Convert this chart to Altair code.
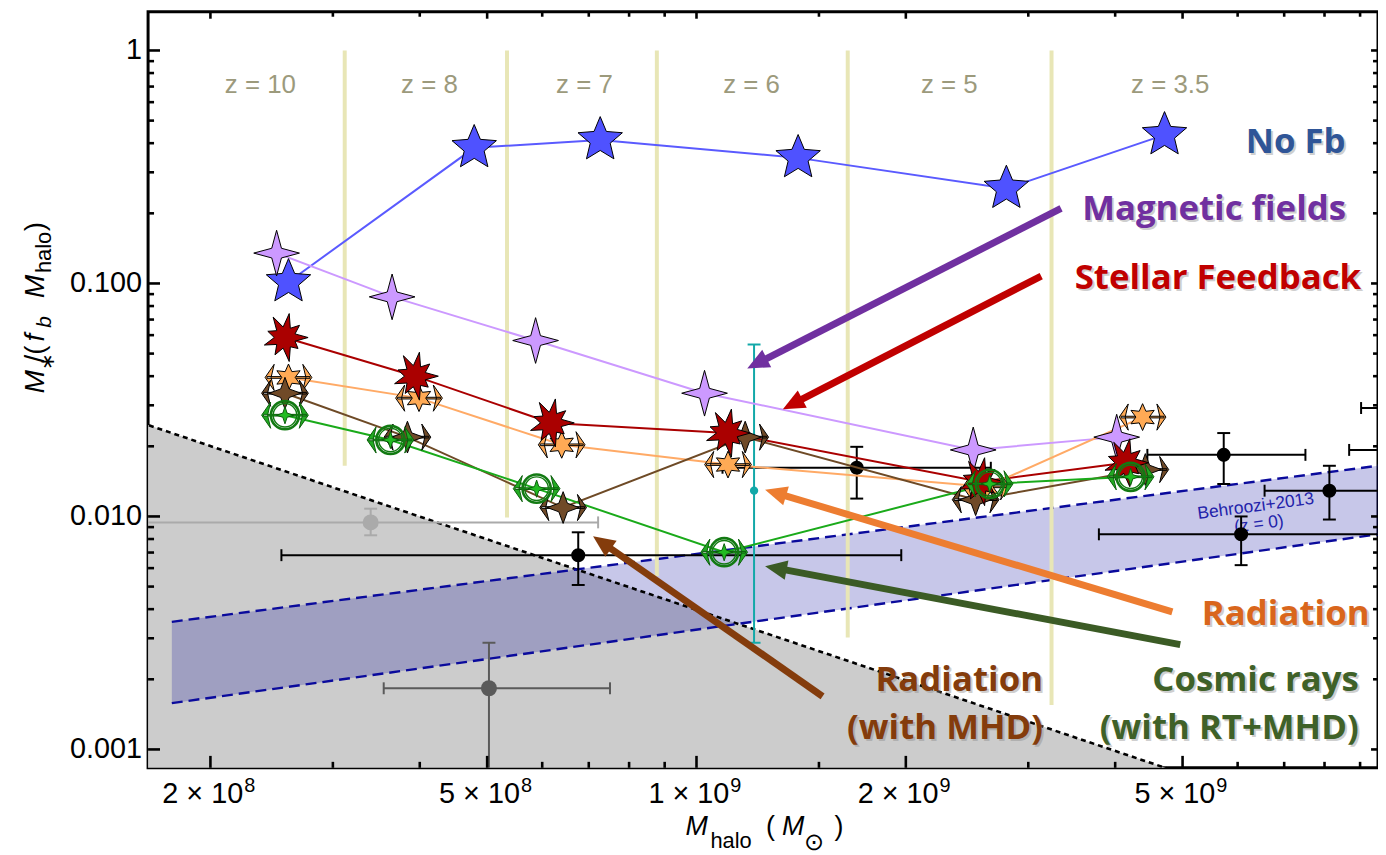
import math
import altair as alt
import pandas as pd

# ---------------- axis ranges (plot area) ----------------
X_MIN, X_MAX = 1.627e8, 9.55e9
Y_MIN, Y_MAX = 8.34e-4, 1.466
W, H = 1238, 761

# ---------------- simulation tracks ----------------
nofb_m = [2.59e8, 4.79e8, 7.27e8, 1.40e9, 2.79e9, 4.71e9]
nofb_v = [0.1015, 0.382, 0.413, 0.346, 0.2555, 0.434]
mag_m = [2.49e8, 3.65e8, 5.87e8, 1.027e9, 2.50e9, 4.02e9]
mag_v = [0.135, 0.0876, 0.0569, 0.0338, 0.0193, 0.0219]
sf_m = [2.56e8, 3.94e8, 6.18e8, 1.107e9, 2.56e9, 4.14e9]
sf_v = [0.0586, 0.040, 0.0252, 0.0228, 0.0141, 0.0170]
rad_m = [2.59e8, 3.99e8, 6.40e8, 1.11e9, 2.61e9, 4.38e9]
rad_v = [0.0395, 0.0322, 0.0203, 0.0167, 0.0134, 0.0267]
radmhd_m = [2.56e8, 3.84e8, 6.43e8, 1.175e9, 2.52e9, 4.42e9]
radmhd_v = [0.0338, 0.0219, 0.01092, 0.0219, 0.0118, 0.0159]
cr_m = [2.56e8, 3.63e8, 5.89e8, 1.096e9, 2.64e9, 4.21e9]
cr_v = [0.0272, 0.0213, 0.01316, 0.00702, 0.0138, 0.0148]

# ---------------- redshift separators / labels ----------------
sep_m = [3.12e8, 5.34e8, 8.77e8, 1.65e9, 3.24e9]
sep_top = [1.0, 1.0, 1.0, 1.0, 1.0]
sep_bot = [0.0165, 0.0099, 0.00555, 0.00302, 0.00155]
z_text = ["z = 10", "z = 8", "z = 7", "z = 6", "z = 5", "z = 3.5"]
z_m = [2.36e8, 4.13e8, 6.9e8, 1.2e9, 2.31e9, 4.8e9]
z_v = [0.71, 0.71, 0.71, 0.71, 0.71, 0.71]

# ---------------- observations ----------------
obs_m = [6.76e8, 1.70e9, 5.73e9, 8.13e9, 6.07e9, 1.2e10, 1.15e10]
obs_v = [0.00682, 0.01618, 0.01838, 0.0129, 0.00838, 0.0292, 0.0193]
obs_mlo = [2.53e8, 1.09e9, 4.45e9, 6.56e9, 3.79e9, 9.03e9, 8.68e9]
obs_mhi = [1.97e9, 2.65e9, 7.51e9, 1.007e10, 9.7e9, 1.6e10, 1.5e10]
obs_vlo = [0.00508, 0.01193, 0.01378, 0.0097, 0.00618, 0.0235, 0.0155]
obs_vhi = [0.00855, 0.0199, 0.0228, 0.0165, 0.0100, 0.0365, 0.024]

lg_m, lg_v = [3.40e8], [0.00943]
lg_mlo, lg_mhi, lg_vlo, lg_vhi = [1.6e8], [7.22e8], [0.0083], [0.0108]
dg_m, dg_v = [5.03e8], [0.00183]
dg_mlo, dg_mhi, dg_vlo, dg_vhi = [3.55e8], [7.51e8], [0.0007], [0.00287]
cy_m, cy_v, cy_vlo, cy_vhi = [1.21e9], [0.0129], [0.00287], [0.0547]

# ---------------- Behroozi+2013 band and excluded region ----------------
beh_m = [1.76e8, 1.0e10]
beh_hi = [0.00353, 0.0168]
beh_lo = [0.00158, 0.00855]
excl_m = [1.5e8, 1.0e10]
excl_v = [0.02678, 3.92e-4]
excl_floor = [1e-4, 1e-4]

# ---------------- arrows & labels ----------------
arrow_tail_m = [3.344e9, 3.131e9, 4.833e9, 4.962e9, 1.518e9]
arrow_tail_v = [0.2099, 0.1076, 0.003897, 0.002818, 0.00169]
arrow_tip_m = [1.183e9, 1.331e9, 1.255e9, 1.255e9, 7.1e8]
arrow_tip_v = [0.04319, 0.02888, 0.01303, 0.00612, 0.00822]
arrow_colors = ["#7030a0", "#c00000", "#ed7d31", "#3b5b25", "#843c0c"]

lab_text = ["No Fb", "Magnetic fields", "Stellar Feedback", "Radiation",
            "Radiation\n(with MHD)", "Cosmic rays\n(with RT+MHD)"]
lab_m = [7.27e9, 5.55e9, 5.62e9, 5.33e9, 3.15e9, 8.96e9]
lab_v = [0.405, 0.2078, 0.1056, 0.00382, 0.00198, 0.00198]
lab_color = ["#2f5597", "#7030a0", "#c00000", "#d9661c", "#843c0c", "#3f6128"]
lab_align = ["center", "center", "center", "left", "right", "right"]
lab_lh = [44, 44, 44, 44, 48, 48]

beh_text = ["Behroozi+2013", "(z = 0)"]
beh_tm = [6.37e9, 6.44e9]
beh_tv = [0.01103, 0.00925]

# ticks and tick labels
x_major = [2e8, 5e8, 1e9, 2e9, 5e9]
x_tick_mant = ["2 × 10", "5 × 10", "1 × 10", "2 × 10", "5 × 10"]
x_tick_exp = ["8", "8", "9", "9", "9"]
x_minor = [3e8, 4e8, 6e8, 7e8, 8e8, 9e8, 1.5e9, 3e9, 4e9, 6e9, 7e9, 8e9, 9e9]
y_major = [0.001, 0.01, 0.1, 1.0]
y_tick_text = ["0.001", "0.010", "0.100", "1"]
y_minor = [k * 10.0 ** e for e in (-3, -2, -1) for k in range(2, 10)]

# ---------------- helpers ----------------
xs = alt.Scale(type="log", domain=[X_MIN, X_MAX], nice=False)
ys = alt.Scale(type="log", domain=[Y_MIN, Y_MAX], nice=False)


def X(f="m"):
    return alt.X(f, type="quantitative", scale=xs, axis=None)


def Y(f="v"):
    return alt.Y(f, type="quantitative", scale=ys, axis=None)


def poly(pts):
    return "M" + "L".join(f"{x:.3f},{y:.3f}" for x, y in pts) + "Z"


def star(n, r_in, rot=-90.0, outer=None):
    pts = []
    for k in range(2 * n):
        a = math.radians(rot + k * 180.0 / n)
        r = (outer[k // 2] if outer else 1.0) if k % 2 == 0 else r_in
        pts.append((r * math.cos(a), r * math.sin(a)))
    return poly(pts)


CHEV = (poly([(-0.6, -0.55), (-0.98, 0), (-0.6, 0.55), (-0.73, 0)])
        + poly([(0.6, -0.55), (0.98, 0), (0.6, 0.55), (0.73, 0)])
        + poly([(-0.9, -0.035), (0.9, -0.035), (0.9, 0.035), (-0.9, 0.035)]))
BURST = star(9, 0.44, rot=-80, outer=[1.0, 0.78, 0.95, 0.7, 1.0, 0.82, 0.9, 0.75, 0.97])
VCAP = "M0,-1L0,1"
HEADP = "M0,0L0.9,2L-0.9,2Z"


def df(**cols):
    return pd.DataFrame(cols)


def marker(d, shape, size, fill, stroke="black", sw=1.0, filled=True):
    kw = dict(shape=shape, size=size, filled=filled, opacity=1, strokeWidth=sw, stroke=stroke)
    if filled:
        kw["fill"] = fill
    return alt.Chart(d).mark_point(**kw).encode(x=X(), y=Y())


def errbars(m, v, mlo, mhi, vlo, vhi, color, dot_size, sw=2.0):
    out = []
    if mlo is not None:
        h = df(m=m, v=v, a=mlo, b=mhi)
        out.append(alt.Chart(h).mark_rule(color=color, strokeWidth=sw, clip=True).encode(
            x=X("a"), x2=alt.X2("b"), y=Y("v")))
        caps = pd.concat([df(m=mlo, v=v), df(m=mhi, v=v)])
        out.append(alt.Chart(caps).mark_point(shape=VCAP, size=144, filled=False, stroke=color,
                                               strokeWidth=sw, opacity=1, clip=True).encode(x=X(), y=Y()))
    vv = df(m=m, v=v, a=vlo, b=vhi)
    out.append(alt.Chart(vv).mark_rule(color=color, strokeWidth=sw, clip=True).encode(
        x=X("m"), y=Y("a"), y2=alt.Y2("b")))
    caps = pd.concat([df(m=m, v=vlo), df(m=m, v=vhi)])
    out.append(alt.Chart(caps).mark_point(shape="stroke", size=169, filled=False, stroke=color,
                                           strokeWidth=sw, opacity=1, clip=True).encode(x=X(), y=Y()))
    out.append(alt.Chart(df(m=m, v=v)).mark_point(shape="circle", size=dot_size, filled=True,
                                                  fill=color, opacity=1, strokeWidth=0, clip=True).encode(x=X(), y=Y()))
    return out


layers = []

# excluded (grey) region and Behroozi band
layers.append(alt.Chart(df(m=excl_m, v=excl_v, f=excl_floor)).mark_area(color="#cccccc", clip=True).encode(
    x=X(), y=Y(), y2=alt.Y2("f")))
layers.append(alt.Chart(df(m=beh_m, a=beh_hi, b=beh_lo)).mark_area(color="#00009a", opacity=0.22, clip=True).encode(
    x=X(), y=Y("a"), y2=alt.Y2("b")))
layers.append(alt.Chart(df(m=excl_m, v=excl_v)).mark_line(color="black", strokeWidth=2.6, strokeDash=[5, 4], clip=True).encode(
    x=X(), y=Y()))
for col in (beh_hi, beh_lo):
    layers.append(alt.Chart(df(m=beh_m, v=col)).mark_line(color="#0a0a9c", strokeWidth=2.4, strokeDash=[11, 6], clip=True).encode(
        x=X(), y=Y()))

# redshift separators and labels
layers.append(alt.Chart(df(m=sep_m, a=sep_top, b=sep_bot)).mark_rule(color="#e8e6b6", strokeWidth=4).encode(
    x=X(), y=Y("a"), y2=alt.Y2("b")))
layers.append(alt.Chart(df(m=z_m, v=z_v, t=z_text)).mark_text(font="Liberation Sans", fontSize=26, color="#9c9a7c",
                                                             baseline="middle").encode(x=X(), y=Y(), text="t:N"))
layers.append(alt.Chart(df(m=beh_tm, v=beh_tv, t=beh_text)).mark_text(font="Liberation Sans", fontSize=17.5, color="#2222aa",
                                                                       angle=352.5, baseline="middle").encode(
    x=X(), y=Y(), text="t:N"))

# observations
layers += errbars(lg_m, lg_v, lg_mlo, lg_mhi, lg_vlo, lg_vhi, "#aaaaaa", 260)
layers += errbars(dg_m, dg_v, dg_mlo, dg_mhi, dg_vlo, dg_vhi, "#5a5a5a", 260)
layers += errbars(obs_m, obs_v, obs_mlo, obs_mhi, obs_vlo, obs_vhi, "black", 200)
layers += errbars(cy_m, cy_v, None, None, cy_vlo, cy_vhi, "#12a8a8", 70)

# simulation lines
for m, v, c in [(nofb_m, nofb_v, "#5a5aff"), (mag_m, mag_v, "#cc99ff"), (sf_m, sf_v, "#aa0000"),
                (rad_m, rad_v, "#ffaa66"), (radmhd_m, radmhd_v, "#6e4a26"), (cr_m, cr_v, "#1aaa1a")]:
    layers.append(alt.Chart(df(m=m, v=v)).mark_line(color=c, strokeWidth=2).encode(x=X(), y=Y()))

# markers
layers.append(marker(df(m=nofb_m, v=nofb_v), star(5, 0.45), 2209, "#4f52ff"))
layers.append(marker(df(m=mag_m, v=mag_v), star(4, 0.3), 2116, "#cc99ff"))
layers.append(marker(df(m=rad_m, v=rad_v), CHEV, 2304, "#ffaa55"))
layers.append(marker(df(m=rad_m, v=rad_v), star(6, 0.5), 729, "#ffaa55"))
layers.append(marker(df(m=radmhd_m, v=radmhd_v), CHEV, 2304, "#704a28"))
layers.append(marker(df(m=radmhd_m, v=radmhd_v), star(4, 0.38), 1024, "#704a28"))
layers.append(marker(df(m=sf_m, v=sf_v), BURST, 2401, "#aa0000"))
layers.append(marker(df(m=cr_m, v=cr_v), CHEV, 2304, "#22aa22", stroke="#0b5e0b"))
layers.append(marker(df(m=cr_m, v=cr_v), "circle", 804, None, stroke="#127a12", sw=2.6, filled=False))
layers.append(marker(df(m=cr_m, v=cr_v), "circle", 560, None, stroke="#127a12", sw=1.4, filled=False))
layers.append(marker(df(m=cr_m, v=cr_v), star(4, 0.35), 300, "#22bb22", stroke="#0b5e0b"))

# arrows
LX = W / math.log10(X_MAX / X_MIN)
LY = H / math.log10(Y_MAX / Y_MIN)
HEAD = 22
for tm, tv, hm, hv, col in zip(arrow_tail_m, arrow_tail_v, arrow_tip_m, arrow_tip_v, arrow_colors):
    dx = LX * (math.log10(hm) - math.log10(tm))
    dy = -LY * (math.log10(hv) - math.log10(tv))
    L = math.hypot(dx, dy)
    ux, uy = dx / L, dy / L
    nm = 10 ** (math.log10(hm) - ux * (HEAD - 4) / LX)
    nv = 10 ** (math.log10(hv) + uy * (HEAD - 4) / LY)
    ang = math.degrees(math.atan2(dx, -dy)) % 360
    layers.append(alt.Chart(df(m=[tm], v=[tv], a=[nm], b=[nv])).mark_rule(color=col, strokeWidth=7, strokeCap="butt").encode(
        x=X("m"), y=Y("v"), x2=alt.X2("a"), y2=alt.Y2("b")))
    layers.append(alt.Chart(df(m=[hm], v=[hv], g=[ang])).mark_point(shape=HEADP, size=484, filled=True, fill=col,
                                                                    opacity=1, strokeWidth=0).encode(
        x=X(), y=Y(), angle=alt.Angle("g:Q", scale=None)))

# annotation labels (with soft shadow)
for i in range(len(lab_text)):
    d = df(m=[lab_m[i]], v=[lab_v[i]], t=[lab_text[i]])
    base = dict(font="Open Sans", fontWeight="bold", fontSize=35, align=lab_align[i], baseline="middle",
                clip=True, lineBreak="\n", lineHeight=lab_lh[i])
    layers.append(alt.Chart(d).mark_text(color="#888888", opacity=0.4, dx=2, dy=2, **base).encode(
        x=X(), y=Y(), text="t:N"))
    layers.append(alt.Chart(d).mark_text(color=lab_color[i], **base).encode(x=X(), y=Y(), text="t:N"))

# inward ticks
xmaj, xmin_ = df(m=x_major), df(m=x_minor)
ymaj, ymin_ = df(v=y_major), df(v=y_minor)
tk = dict(color="black", strokeWidth=2.6)
layers.append(alt.Chart(xmaj).mark_rule(**tk).encode(x=X(), y=alt.value(H), y2=alt.value(H - 12)))
layers.append(alt.Chart(xmin_).mark_rule(**tk).encode(x=X(), y=alt.value(H), y2=alt.value(H - 6)))
layers.append(alt.Chart(xmaj).mark_rule(**tk).encode(x=X(), y=alt.value(0), y2=alt.value(7)))
layers.append(alt.Chart(xmin_).mark_rule(**tk).encode(x=X(), y=alt.value(0), y2=alt.value(5)))
layers.append(alt.Chart(ymaj).mark_rule(**tk).encode(y=Y(), x=alt.value(0), x2=alt.value(12)))
layers.append(alt.Chart(ymin_).mark_rule(**tk).encode(y=Y(), x=alt.value(0), x2=alt.value(6)))
layers.append(alt.Chart(ymaj).mark_rule(**tk).encode(y=Y(), x=alt.value(W), x2=alt.value(W - 7)))
layers.append(alt.Chart(ymin_).mark_rule(**tk).encode(y=Y(), x=alt.value(W), x2=alt.value(W - 5)))

# tick labels
layers.append(alt.Chart(df(m=x_major, t=x_tick_mant)).mark_text(
    font="Liberation Sans", fontSize=29, align="right", baseline="alphabetic", dx=33, color="black").encode(
    x=X(), y=alt.value(H + 35), text="t:N"))
layers.append(alt.Chart(df(m=x_major, t=x_tick_exp)).mark_text(
    font="Liberation Sans", fontSize=20, align="left", baseline="alphabetic", dx=34, color="black").encode(
    x=X(), y=alt.value(H + 24), text="t:N"))
layers.append(alt.Chart(df(v=y_major, t=y_tick_text)).mark_text(
    font="Liberation Sans", fontSize=29, align="right", baseline="middle", color="black").encode(
    y=Y(), x=alt.value(-6), text="t:N"))

# axis titles built from pieces (italic symbols with subscripts)
one = pd.DataFrame({"k": [0]})


def piece(txt, px, py, size, italic=False, angle=0):
    kw = dict(text=txt, x=px, y=py, fontSize=size, font="Liberation Sans", align="left",
              baseline="alphabetic", color="black")
    if italic:
        kw["fontStyle"] = "italic"
    if angle:
        kw["angle"] = angle
    return alt.Chart(one).mark_text(**kw)


layers += [
    piece("M", 541, 829, 27, True), piece("halo", 566, 842, 22), piece("(", 622, 829, 27),
    piece("M", 638, 829, 27, True), piece("⊙", 660, 844, 24), piece(")", 691, 829, 27),
]
layers += [
    piece("M", -105, 384, 28, True, 270), piece("∗", -95, 361, 20, False, 270),
    piece("/(", -105, 353, 28, False, 270), piece("f", -105, 332, 28, True, 270),
    piece("b", -98, 318, 21, True, 270), piece("M", -105, 288, 28, True, 270),
    piece("halo", -98, 263, 22, False, 270), piece(")", -105, 221, 28, False, 270),
]

chart = alt.layer(*layers).properties(
    width=W, height=H,
    autosize=alt.AutoSizeParams(type="none"),
    padding={"left": 141, "top": 1, "right": 0, "bottom": 88},
    background="white",
).configure_view(stroke="black", strokeWidth=3)

chart.save("out.html", embed_options={"renderer": "svg", "actions": False})
